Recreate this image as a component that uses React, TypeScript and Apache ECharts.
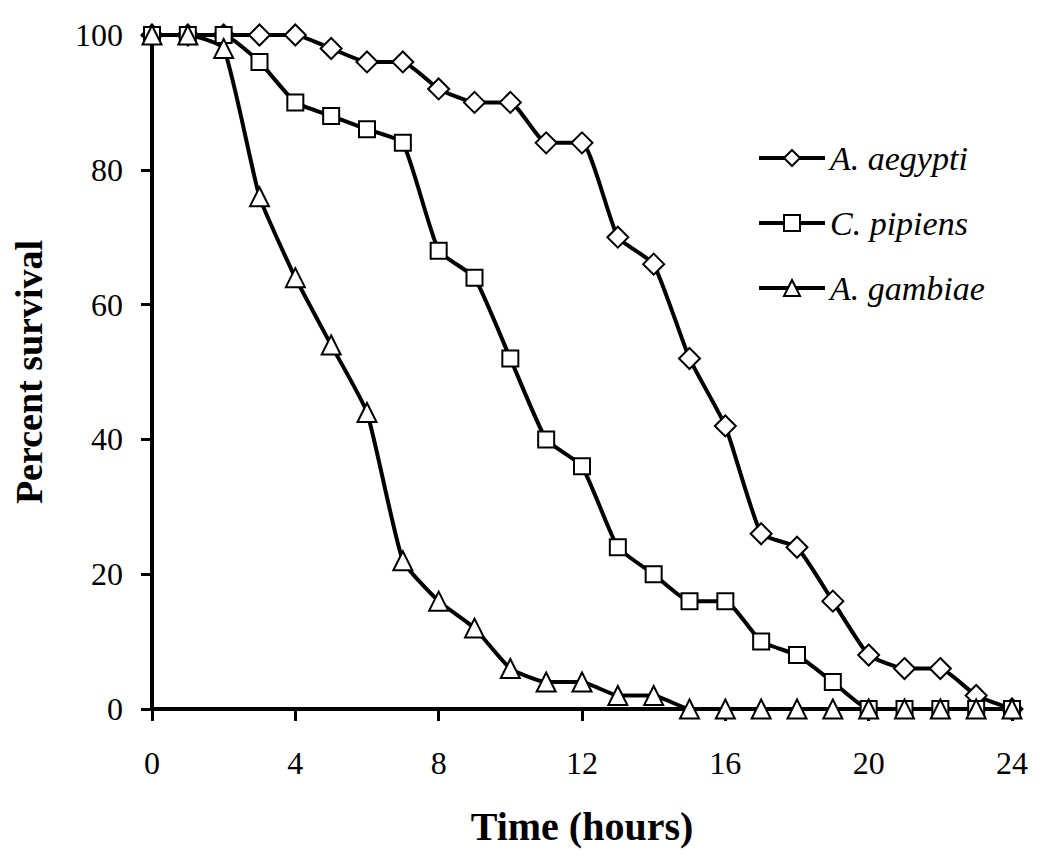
import React, { useEffect, useRef } from "react";
import * as echarts from "echarts";

const hours = [0, 1, 2, 3, 4, 5, 6, 7, 8, 9, 10, 11, 12, 13, 14, 15, 16, 17, 18, 19, 20, 21, 22, 23, 24];
const aegypti = [100, 100, 100, 100, 100, 98, 96, 96, 92, 90, 90, 84, 84, 70, 66, 52, 42, 26, 24, 16, 8, 6, 6, 2, 0];
const pipiens = [100, 100, 100, 96, 90, 88, 86, 84, 68, 64, 52, 40, 36, 24, 20, 16, 16, 10, 8, 4, 0, 0, 0, 0, 0];
const gambiae = [100, 100, 98, 76, 64, 54, 44, 22, 16, 12, 6, 4, 4, 2, 2, 0, 0, 0, 0, 0, 0, 0, 0, 0, 0];
const seriesNames = ["A. aegypti", "C. pipiens", "A. gambiae"];
const xTicks = [0, 4, 8, 12, 16, 20, 24];
const yTicks = [0, 20, 40, 60, 80, 100];

const FONT = "'Liberation Serif', 'Times New Roman', serif";

export default function App() {
  const ref = useRef<HTMLDivElement>(null);
  useEffect(() => {
    if (!ref.current) return;
    const chart = echarts.init(ref.current, undefined, { renderer: "svg" });
    const mk = (name: string, vals: number[], symbol: string, size: number) => ({
      name,
      type: "line",
      data: hours.map((h, i) => [h, vals[i]]),
      symbol,
      symbolSize: size,
      smooth: 0.15,
      lineStyle: { color: "#000", width: 4 },
      itemStyle: { color: "#fff", borderColor: "#000", borderWidth: 2 },
      emphasis: { disabled: true },
    });
    chart.setOption({
      animation: false,
      backgroundColor: "#fff",
      grid: { left: 152, right: 38, top: 35, bottom: 149 },
      legend: {
        orient: "vertical",
        left: 752,
        top: 136,
        itemWidth: 66,
        itemHeight: 20,
        itemGap: 31,
        lineStyle: { width: 4, color: "#000" },
        textStyle: { fontFamily: FONT, fontSize: 34, lineHeight: 34, fontStyle: "italic", color: "#000" },
        data: seriesNames,
      },
      xAxis: {
        type: "value",
        min: 0,
        max: 24,
        interval: 4,
        name: "Time (hours)",
        nameLocation: "middle",
        nameGap: 97,
        nameTextStyle: { fontFamily: FONT, fontSize: 40, fontWeight: "bold", color: "#000" },
        axisLine: { lineStyle: { color: "#000", width: 4 } },
        axisTick: { show: true, inside: false, length: 12, lineStyle: { color: "#000", width: 3 } },
        axisLabel: {
          fontFamily: FONT,
          fontSize: 32,
          color: "#000",
          margin: 38,
          formatter: (v: number) => (xTicks.includes(v) ? String(v) : ""),
        },
        splitLine: { show: false },
      },
      yAxis: {
        type: "value",
        min: 0,
        max: 100,
        interval: 20,
        name: "Percent survival",
        nameLocation: "middle",
        nameGap: 104,
        nameRotate: 90,
        nameTextStyle: { fontFamily: FONT, fontSize: 38, fontWeight: "bold", color: "#000" },
        axisLine: { show: true, lineStyle: { color: "#000", width: 4 } },
        axisTick: { show: true, inside: false, length: 11, lineStyle: { color: "#000", width: 3 } },
        axisLabel: {
          fontFamily: FONT,
          fontSize: 32,
          color: "#000",
          margin: 29,
          formatter: (v: number) => (yTicks.includes(v) ? String(v) : ""),
        },
        splitLine: { show: false },
      },
      series: [
        mk(seriesNames[0], aegypti, "path://M0,-1L1,0L0,1L-1,0Z", 21),
        mk(seriesNames[1], pipiens, "rect", 16),
        mk(seriesNames[2], gambiae, "triangle", 19),
      ],
    });
    return () => chart.dispose();
  }, []);
  return <div ref={ref} style={{ width: 1050, height: 858, position: "absolute", left: 0, top: 0 }} />;
}
